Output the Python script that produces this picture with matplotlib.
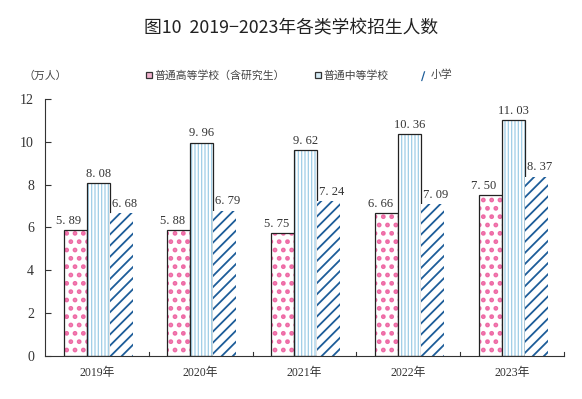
import matplotlib
matplotlib.use("Agg")
import matplotlib.pyplot as plt
from matplotlib.patches import Rectangle
import numpy as np

# 数据
years = ["2019年", "2020年", "2021年", "2022年", "2023年"]
higher = [5.89, 5.88, 5.75, 6.66, 7.50]      # 普通高等学校（含研究生）
middle = [8.08, 9.96, 9.62, 10.36, 11.03]    # 普通中等学校
primary = [6.68, 6.79, 7.24, 7.09, 8.37]     # 小学
series_names = ["普通高等学校（含研究生）", "普通中等学校", "小学"]

plt.rcParams['font.family'] = ['Liberation Serif', 'Noto Sans CJK SC']

fig = plt.figure(figsize=(5.82, 3.99), dpi=100)
ax = fig.add_axes([0.0773, 0.108, 0.8917, 0.644])

x = np.arange(len(years))
w = 0.222
off = 0.012
pink = "#ee6aa5"
lblue = "#9fcde6"
dblue = "#1d5d99"

# 普通高等学校：粉色点阵 + 黑框
plt.rcParams['hatch.linewidth'] = 2.2
ax.bar(x - w + off, higher, w, color="white", edgecolor=pink, hatch="..", linewidth=0)
ax.bar(x - w + off, higher, w, fill=False, edgecolor="#222222", linewidth=0.9)
# 普通中等学校：浅蓝竖线 + 黑框
plt.rcParams['hatch.linewidth'] = 0.9
ax.bar(x + off, middle, w, color="white", edgecolor=lblue, hatch="|||||", linewidth=0)
ax.bar(x + off, middle, w, fill=False, edgecolor="#222222", linewidth=0.9)
# 小学：深蓝斜线
plt.rcParams['hatch.linewidth'] = 1.3
ax.bar(x + w + off, primary, w, color="white", edgecolor=dblue, hatch="///", linewidth=0)

# 数值标签（标签略向外偏）
for vals, dx in [(higher, -w - 0.06), (middle, 0), (primary, w + 0.03)]:
    for xi, v in zip(x, vals):
        ax.text(xi + dx + off, v + 0.15, ("%.2f" % v).replace(".", ". "), ha="center",
                va="bottom", fontsize=9, color="#333333")

ax.set_xlim(-0.5, 4.5)
ax.set_ylim(0, 12)
ax.set_yticks(range(0, 13, 2))
ax.tick_params(axis="y", direction="in", length=4, width=0.8, labelsize=10,
               colors="#333333", pad=8)
ax.set_xticks(x)
ax.set_xticklabels(years, fontsize=8.5, color="#333333")
ax.tick_params(axis="x", length=0, pad=8)
# 组间刻度
for b in np.arange(0.5, 4.6, 1.0):
    ax.plot([b, b], [0, 0.2], color="#333333", lw=0.8, clip_on=False)

for s in ["top", "right"]:
    ax.spines[s].set_visible(False)
ax.spines["left"].set_color("#333333")
ax.spines["bottom"].set_color("#333333")

# 标题与单位
fig.text(0.5, 0.928, "图10  2019−2023年各类学校招生人数", ha="center", va="center",
         fontsize=12.8, color="#222222", family=["Noto Sans CJK SC", "DejaVu Sans"])
fig.text(0.077, 0.81, "（万人）", ha="center", va="center", fontsize=7.8, color="#444444")

# 图例
leg_y = 0.812
lx = [0.251, 0.541, 0.722]
sq_w, sq_h = 0.011, 0.016
fig.patches.append(Rectangle((lx[0], leg_y - sq_h / 2), sq_w, sq_h, transform=fig.transFigure,
                             facecolor="#f3b3cf", edgecolor="#333333", lw=0.9, figure=fig))
fig.patches.append(Rectangle((lx[1], leg_y - sq_h / 2), sq_w, sq_h, transform=fig.transFigure,
                             facecolor="#d5ebf5", edgecolor="#333333", lw=0.9, figure=fig))
fig.text(lx[2] + 0.005, leg_y - 0.004, "∕", ha="center", va="center", fontsize=8.5,
         color=dblue, fontweight="bold", family=["DejaVu Sans"])
fig.text(lx[0] + 0.015, leg_y, series_names[0], ha="left", va="center", fontsize=7.8, color="#444444")
fig.text(lx[1] + 0.015, leg_y, series_names[1], ha="left", va="center", fontsize=7.8, color="#444444")
fig.text(lx[2] + 0.018, leg_y, series_names[2], ha="left", va="center", fontsize=7.8, color="#444444")

fig.savefig("out.png", dpi=100)
